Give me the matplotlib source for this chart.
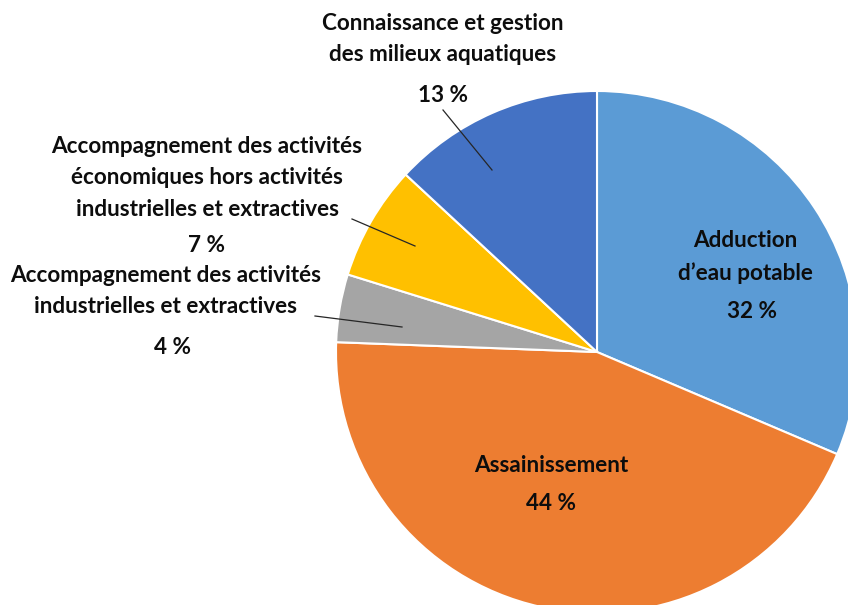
import matplotlib
matplotlib.use("Agg")
import matplotlib.pyplot as plt
import numpy as np

# Data (shares, %)
categories = [
    "Adduction\nd’eau potable",
    "Assainissement",
    "Accompagnement des activités\nindustrielles et extractives",
    "Accompagnement des activités\néconomiques hors activités\nindustrielles et extractives",
    "Connaissance et gestion\ndes milieux aquatiques",
]
values = [31.4, 44.2, 4.2, 7.1, 13.1]
pct_labels = ["32 %", "44 %", "4 %", "7 %", "13 %"]
colors = ["#5B9BD5", "#ED7D31", "#A5A5A5", "#FFC000", "#4472C4"]

W, H = 848, 605
CX, CY, R = 597, 352, 261

fig = plt.figure(figsize=(W / 100, H / 100), dpi=100)
ax = fig.add_axes([(CX - R) / W, (H - CY - R) / H, 2 * R / W, 2 * R / H])
wedges, _ = ax.pie(values, colors=colors, startangle=90, counterclock=False,
                   radius=1, wedgeprops=dict(edgecolor="white", linewidth=1.5))
ax.set_xlim(-1, 1)
ax.set_ylim(-1, 1)
ax.axis("off")

def d(px, py):
    return (px - CX) / R, (CY - py) / R

font = dict(family=["Lato", "DejaVu Sans"], fontweight="bold", fontsize=16.2, color="#0D0D0D")

# label layout (pixel positions, top-left origin): name center, pct center, leader (start, end)
layout = [
    ((745, 257), (752, 312), None),
    ((551, 466), (551, 504), None),
    ((166, 291), (173, 348), ((315, 316), (402, 327))),
    ((207, 178), (207, 245), ((352, 219), (415, 246))),
    ((443, 39), (443, 96), ((443, 110), (492, 170))),
]

for i, (cat, pct) in enumerate(zip(categories, pct_labels)):
    (nx, ny), (px, py), leader = layout[i]
    ax.text(*d(nx, ny), cat, ha="center", va="center", linespacing=1.6, clip_on=False, **font)
    ax.text(*d(px, py), pct, ha="center", va="center", clip_on=False, **font)
    if leader:
        (sx, sy), (ex, ey) = d(*leader[0]), d(*leader[1])
        ax.plot([sx, ex], [sy, ey], color="#262626", linewidth=0.9, clip_on=False)

fig.savefig("out.png", dpi=100)
